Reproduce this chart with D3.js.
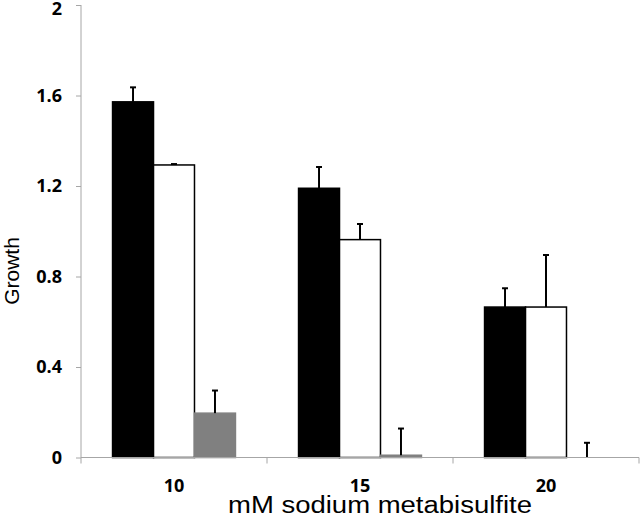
<!DOCTYPE html>
<html>
<head>
<meta charset="utf-8">
<script src="https://cdn.jsdelivr.net/npm/d3@7/dist/d3.min.js"></script>
<style>
  body { margin: 0; background: #fff; }
  svg { display: block; }
</style>
</head>
<body>
<div id="chart"></div>
<script>
// concentrations (mM) on the x axis
const categories = ['10', '15', '20'];
const series = ['black', 'white', 'gray'];

const blackValues = [1.572, 1.19, 0.665];
const blackErrors = [0.064, 0.094, 0.083];
const whiteValues = [1.293, 0.963, 0.665];
const whiteErrors = [0.004, 0.069, 0.23];
const grayValues = [0.196, 0.01, 0];
const grayErrors = [0.1, 0.118, 0.065];

const yTicks = [0, 0.4, 0.8, 1.2, 1.6, 2];
const yTickLabels = ['0', '0.4', '0.8', '1.2', '1.6', '2'];

const width = 640, height = 516;
const margin = {top: 5, right: 1, bottom: 58.5, left: 81};

const fills = {black: '#000', white: '#fff', gray: '#808080'};
const strokes = {black: '#000', white: '#000', gray: '#808080'};

const rows = categories.map((c, i) => ({
  cat: c,
  bars: [
    {key: 'black', value: blackValues[i], err: blackErrors[i]},
    {key: 'white', value: whiteValues[i], err: whiteErrors[i]},
    {key: 'gray', value: grayValues[i], err: grayErrors[i]}
  ]
}));

const svg = d3.select('#chart')
  .append('svg')
    .attr('width', width)
    .attr('height', height);

const x0 = d3.scaleBand()
  .domain(categories)
  .range([margin.left, width - margin.right]);

const x1 = d3.scaleBand()
  .domain(series)
  .range([0, x0.bandwidth()])
  .paddingOuter(0.77);

const y = d3.scaleLinear()
  .domain([0, 2])
  .range([height - margin.bottom, margin.top]);

const axisColor = '#a6a6a6';
const tickFont = '"Open Sans", sans-serif';

// y axis
const yAxis = svg.append('g')
  .attr('transform', `translate(${margin.left},0)`)
  .call(d3.axisLeft(y).tickValues(yTicks)
    .tickFormat((d, i) => yTickLabels[i]).tickSize(5).tickPadding(14));
yAxis.select('.domain').remove();
yAxis.append('line')
  .attr('x1', 0).attr('x2', 0)
  .attr('y1', y(2)).attr('y2', y(0) + 6)
  .attr('stroke', axisColor);
yAxis.selectAll('.tick line').attr('stroke', axisColor);
yAxis.selectAll('.tick text')
  .attr('fill', '#000')
  .style('font-family', tickFont)
  .style('font-weight', 'bold')
  .style('font-size', '18px');
yAxis.selectAll('.tick text').filter(d => d === 2).attr('dy', '0.5em');

// bars
const groups = svg.selectAll('.group')
  .data(rows)
  .join('g')
    .attr('class', 'group')
    .attr('transform', d => `translate(${x0(d.cat)},0)`);

groups.selectAll('rect')
  .data(d => d.bars)
  .join('rect')
    .attr('x', d => x1(d.key))
    .attr('width', x1.bandwidth())
    .attr('y', d => y(d.value))
    .attr('height', d => y(0) - y(d.value))
    .attr('fill', d => fills[d.key])
    .attr('stroke', d => strokes[d.key])
    .attr('stroke-width', 1.5);

// error bars (upper only)
const err = groups.selectAll('.err')
  .data(d => d.bars)
  .join('g')
    .attr('class', 'err')
    .attr('transform', d => `translate(${x1(d.key) + x1.bandwidth() / 2},0)`);
err.append('line')
  .attr('x1', 0).attr('x2', 0)
  .attr('y1', d => y(d.value))
  .attr('y2', d => y(d.value + d.err))
  .attr('stroke', '#000')
  .attr('stroke-width', 2);
err.append('line')
  .attr('x1', -3).attr('x2', 3)
  .attr('y1', d => y(d.value + d.err))
  .attr('y2', d => y(d.value + d.err))
  .attr('stroke', '#000')
  .attr('stroke-width', 2);

// x axis
const xAxis = svg.append('g')
  .attr('transform', `translate(0,${y(0)})`);
xAxis.append('line')
  .attr('x1', margin.left).attr('x2', width - margin.right)
  .attr('stroke', axisColor);
xAxis.selectAll('.xtick')
  .data(categories.slice(1).map(c => x0(c)).concat([width - margin.right]))
  .join('line')
    .attr('x1', d => d).attr('x2', d => d)
    .attr('y1', 0).attr('y2', 6)
    .attr('stroke', axisColor);
xAxis.selectAll('.xlabel')
  .data(categories)
  .join('text')
    .attr('x', d => x0(d) + x0.bandwidth() / 2)
    .attr('y', 34)
    .attr('text-anchor', 'middle')
    .style('font-family', tickFont)
    .style('font-weight', 'bold')
    .style('font-size', '18px')
    .text(d => d);

// axis titles
svg.append('text')
  .attr('transform', 'translate(19,271) rotate(-90)')
  .attr('text-anchor', 'middle')
  .style('font-family', '"Liberation Sans", Arial, sans-serif')
  .style('font-size', '21px')
  .text('Growth');

svg.append('text')
  .attr('x', 380)
  .attr('y', 513)
  .attr('text-anchor', 'middle')
  .attr('textLength', 304)
  .attr('lengthAdjust', 'spacingAndGlyphs')
  .style('font-family', '"Liberation Sans", Arial, sans-serif')
  .style('font-size', '23px')
  .text('mM sodium metabisulfite');
</script>
</body>
</html>
